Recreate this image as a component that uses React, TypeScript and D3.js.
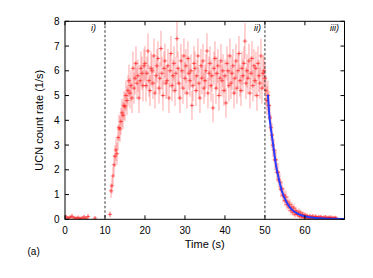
import React from "react";
import * as d3 from "d3";

// ---- data ----
const xTicks = [0, 10, 20, 30, 40, 50, 60];
const yTicks = [0, 1, 2, 3, 4, 5, 6, 7, 8];
const phaseLines = [10, 50];
const phaseLabels = ["i)", "ii)", "iii)"];

// background before the UCN valve opens (time, rate)
const bgTimes = [0.25, 0.75, 1.25, 1.75, 2.25, 2.75, 3.25, 3.75, 4.25, 4.75, 5.25, 5.75, 7.5, 11.25];
const bgRates = [0.1, 0.05, 0.08, 0.12, 0.06, 0.04, 0.07, 0.03, 0.05, 0.09, 0.04, 0.11, 0.05, 0.2];

// filling + storage (0.25 s bins starting at 11.5 s)
const fillStart = 11.5;
const binWidth = 0.25;
const fillRates = [
  1.15, 1.35, 1.75, 2.2, 2.55, 2.8, 2.65, 3.3, 3.7, 3.65,
  3.95, 4.3, 4.2, 4.6, 4.55, 5.0, 4.8, 5.2, 5.6, 5.1,
  5.4, 4.9, 6.1, 5.3, 5.7, 6.3, 5.5, 5.8, 4.9, 5.6,
  6.1, 5.9, 5.4, 6.2,
  6.3, 5.4, 5.9, 6.8, 5.6, 5.2, 6.1, 6.0, 5.5, 6.6,
  5.1, 5.8, 6.2, 6.5, 5.3, 5.7, 6.9, 5.9, 5.0, 6.1,
  6.4, 5.5, 5.6, 6.2, 4.9, 6.0, 6.7, 5.4, 5.8, 6.3,
  5.2, 5.9, 7.3, 6.1, 5.5, 4.9, 6.4, 6.0, 5.3, 6.6,
  5.7, 6.2, 5.1, 6.5, 5.9, 5.6, 6.0, 4.6, 5.4, 6.3,
  6.1, 5.2, 5.8, 6.6, 5.5, 4.9, 6.2, 5.7, 6.4, 5.3,
  5.6, 6.0, 6.8, 5.1, 5.9, 6.3, 5.4, 5.8, 4.5, 6.1,
  6.5, 5.3, 5.9, 6.2, 5.0, 5.7, 6.4, 5.6, 6.0, 5.2,
  5.8, 4.7, 6.3, 6.0, 5.4, 6.6, 5.5, 5.9, 6.2, 5.1,
  5.7, 6.4, 5.3, 6.0, 6.7, 5.6, 5.2, 6.1, 5.8, 6.3,
  7.2, 5.5, 6.0, 5.7, 6.4, 5.1, 5.9, 6.5, 5.4, 6.2,
  5.6, 6.1, 5.0, 6.3, 5.8, 5.5, 6.6, 5.3, 5.9, 6.0,
  5.7, 5.2, 4.8,
];

// emptying (0.25 s bins starting at 50.75 s)
const emptyStart = 50.75;
const emptyRates = [
  5.0, 4.6, 4.1, 3.7, 3.4, 3.0, 2.8, 2.4, 2.4, 1.9,
  1.9, 1.6, 1.5, 1.2, 1.25, 0.95, 1.0, 0.75, 0.9, 0.6,
  0.7, 0.5, 0.6, 0.35, 0.5, 0.28, 0.45, 0.2, 0.35, 0.25,
  0.18, 0.3, 0.12, 0.25, 0.1, 0.2, 0.08, 0.17, 0.05, 0.14,
  0.1, 0.04, 0.13, 0.06, 0.09, 0.12, 0.03, 0.08, 0.11, 0.03,
  0.06, 0.09, 0.04, 0.1, 0.03, 0.05, 0.08, 0.03, 0.09, 0.02,
  0.05, 0.07, 0.03, 0.08, 0.04, 0.02, 0.06, 0.03, 0.06,
];

// exponential fit curve
const fitTimes = [50.75, 51.08, 51.58, 52.17, 52.75, 53.42, 54.25, 55.5, 56.75, 58.4, 60.5, 63.75, 69.9];
const fitRates = [5.03, 4.23, 3.56, 2.88, 2.2, 1.67, 1.13, 0.66, 0.39, 0.21, 0.1, 0.04, 0.01];

const W = 373;
const H = 278;
const left = 65;
const right = 344.5;
const top = 21.3;
const bottom = 219.3;
const font = "'Liberation Sans', Arial, Helvetica, sans-serif";

export default function App() {
  const x = d3.scaleLinear().domain([0, 69.9]).range([left, right]);
  const y = d3.scaleLinear().domain([0, 8]).range([bottom, top]);

  const pts: { t: number; v: number }[] = [];
  bgTimes.forEach((t, i) => pts.push({ t, v: bgRates[i] }));
  fillRates.forEach((v, i) => pts.push({ t: fillStart + i * binWidth, v }));
  emptyRates.forEach((v, i) => pts.push({ t: emptyStart + i * binWidth, v }));

  // Poisson-like error bars
  const errOf = (v: number) => Math.max(0.05, Math.sqrt(v * 0.075));

  const fitLine = d3
    .line<number>()
    .x((_, i) => x(fitTimes[i]))
    .y((d) => y(d))
    .curve(d3.curveMonotoneX)(fitRates);

  const tickLen = 4;

  return (
    <svg
      width={W}
      height={H}
      style={{ position: "absolute", left: 0, top: 0, background: "#fff" }}
      fontFamily={font}
    >
      <defs>
        <clipPath id="plot">
          <rect x={left} y={top} width={right - left} height={bottom - top} />
        </clipPath>
      </defs>

      <g clipPath="url(#plot)">
        {/* error bars */}
        {pts.map((p, i) => {
          const e = errOf(p.v);
          return (
            <line
              key={"e" + i}
              x1={x(p.t)}
              x2={x(p.t)}
              y1={y(p.v - e)}
              y2={y(p.v + e)}
              stroke="rgba(255,60,60,0.33)"
              strokeWidth={1.4}
            />
          );
        })}
        {/* crosses */}
        {pts.map((p, i) => (
          <g key={"c" + i} stroke="rgba(255,0,0,0.7)" strokeWidth={0.8}>
            <line x1={x(p.t) - 2.2} x2={x(p.t) + 2.2} y1={y(p.v)} y2={y(p.v)} />
            <line x1={x(p.t)} x2={x(p.t)} y1={y(p.v) - 2} y2={y(p.v) + 2} />
          </g>
        ))}
        {/* fit */}
        <path d={fitLine || ""} fill="none" stroke="#2a3cff" strokeWidth={2} />
      </g>

      {/* phase lines */}
      {phaseLines.map((t) => (
        <line
          key={"pl" + t}
          x1={x(t)}
          x2={x(t)}
          y1={top}
          y2={bottom}
          stroke="#333"
          strokeWidth={1}
          strokeDasharray="2.5,2"
        />
      ))}

      {/* phase labels */}
      {phaseLabels.map((s, i) => (
        <text
          key={"lab" + i}
          x={[96, 261, 339][i]}
          y={30.5}
          fontSize={9}
          fontStyle="italic"
          textAnchor="end"
          fill="#000"
        >
          {s}
        </text>
      ))}

      {/* frame */}
      <rect
        x={left}
        y={top}
        width={right - left}
        height={bottom - top}
        fill="none"
        stroke="#000"
        strokeWidth={1}
      />

      {/* x ticks */}
      {xTicks.map((t) => (
        <g key={"xt" + t}>
          <line x1={x(t)} x2={x(t)} y1={bottom} y2={bottom - tickLen} stroke="#000" />
          <line x1={x(t)} x2={x(t)} y1={top} y2={top + tickLen} stroke="#000" />
          <text x={x(t)} y={234} fontSize={10} textAnchor="middle" fill="#000">
            {t}
          </text>
        </g>
      ))}

      {/* y ticks */}
      {yTicks.map((v) => (
        <g key={"yt" + v}>
          <line x1={left} x2={left + tickLen} y1={y(v)} y2={y(v)} stroke="#000" />
          <line x1={right} x2={right - tickLen} y1={y(v)} y2={y(v)} stroke="#000" />
          <text
            x={59.5}
            y={y(v) + 3.6}
            fontSize={10}
            textAnchor="end"
            fill="#000"
          >
            {v}
          </text>
        </g>
      ))}

      {/* axis labels */}
      <text x={(left + right) / 2} y={248} fontSize={11} textAnchor="middle" fill="#000">
        Time (s)
      </text>
      <text
        transform={`translate(43,${(top + bottom) / 2}) rotate(-90)`}
        fontSize={11}
        textAnchor="middle"
        fill="#000"
      >
        UCN count rate (1/s)
      </text>
      <text x={27.5} y={254.5} fontSize={10} fill="#000">
        (a)
      </text>
    </svg>
  );
}
